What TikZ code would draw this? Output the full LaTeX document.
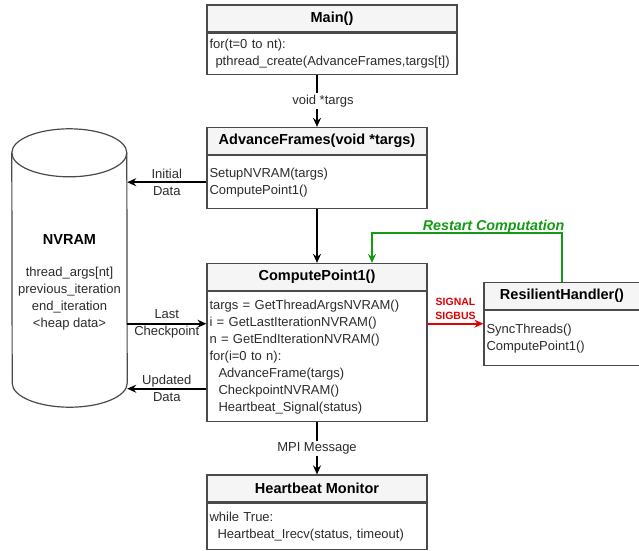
\documentclass[tikz,border=0pt]{standalone}
\usepackage{fontspec}
\setmainfont{Liberation Sans}
\usetikzlibrary{arrows.meta,positioning}

\definecolor{headfill}{HTML}{F5F5F5}
\definecolor{boxline}{HTML}{4A4A4A}
\definecolor{bodytext}{HTML}{2B2B2B}
\definecolor{sigred}{HTML}{E00000}
\definecolor{restartgreen}{HTML}{129A12}

\begin{document}
\begin{tikzpicture}[x=1pt, y=-1pt,
    every node/.style={font=\fontsize{13}{17}\selectfont, text=bodytext},
    head/.style={draw=boxline, fill=headfill, line width=1.2pt, minimum height=27pt,
        inner sep=0pt, text=black, font=\fontsize{14.5}{16}\selectfont\bfseries},
    body/.style={draw=boxline, line width=1.2pt, align=left, inner xsep=2.5pt, inner ysep=0pt},
    flow/.style={line width=1.6pt, -{Stealth[length=9pt,width=8pt,inset=3pt]}}]
\useasboundingbox (0,0) rectangle (639,550);

% NVRAM store
\node[minimum width=115pt, minimum height=278pt, inner sep=0pt] (nvram) at (69.5,268) {};
\draw[line width=1.2pt, draw=boxline] ([yshift=-24pt]nvram.north west)
    arc[start angle=180, end angle=0, x radius=57.5pt, y radius=24pt]
    -- ([yshift=24pt]nvram.south east)
    arc[start angle=0, end angle=-180, x radius=57.5pt, y radius=24pt] -- cycle;
\draw[line width=1.2pt, draw=boxline] ([yshift=-24pt]nvram.north west)
    arc[start angle=180, end angle=360, x radius=57.5pt, y radius=24pt];
\node[font=\fontsize{14.5}{16}\selectfont\bfseries, text=black] (nvramT) at (69.5,240) {NVRAM};
\node[align=center] (nvramV) at (69.5,298.5) {thread\_args[nt]\\previous\_iteration\\end\_iteration\\<heap data>};

% boxes
\node[head, minimum width=250pt] (mainH) at (332,18.5) {Main()};
\node[body, text width=245pt, minimum height=41pt, below=0pt of mainH] (mainB)
    {for(t=0 to nt):\\\hspace*{6pt}pthread\_create(AdvanceFrames,targs[t])};

\node[head, minimum width=220pt] (afH) at (317,141) {AdvanceFrames(void *targs)};
\node[body, text width=215pt, minimum height=53pt, below=0pt of afH] (afB)
    {SetupNVRAM(targs)\\ComputePoint1()};

\node[head, minimum width=220pt] (cpH) at (317,277) {ComputePoint1()};
\node[body, text width=215pt, minimum height=130pt, below=0pt of cpH] (cpB)
    {targs = GetThreadArgsNVRAM()\\i = GetLastIterationNVRAM()\\n = GetEndIterationNVRAM()\\for(i=0 to n):\\
    \hspace*{9pt}AdvanceFrame(targs)\\\hspace*{9pt}CheckpointNVRAM()\\\hspace*{9pt}Heartbeat\_Signal(status)};

\node[head, minimum width=156pt] (rhH) at (562,296) {ResilientHandler()};
\node[body, text width=151pt, minimum height=55pt, below=0pt of rhH] (rhB)
    {SyncThreads()\\ComputePoint1()};

\node[head, minimum width=220pt] (hbH) at (317,488.5) {Heartbeat Monitor};
\node[body, text width=215pt, minimum height=46pt, below=0pt of hbH] (hbB)
    {while True:\\\hspace*{8pt}Heartbeat\_Irecv(status, timeout)};

% connectors
\coordinate (cpIn) at ([yshift=33pt]cpB.west);
\coordinate (cpOut) at ([yshift=-32pt]cpB.west);

\draw[flow] (mainB.south -| afH.north) -- node[fill=white, inner sep=2pt, xshift=6pt]{void *targs} (afH.north);
\draw[flow] (afB.west) -- node[align=center]{Initial\\Data} (afB.west -| nvram.east);
\draw[flow] (afB.south) -- (cpH.north);
\draw[flow] (cpIn -| nvram.east) -- node[align=center]{Last\\Checkpoint} (cpIn);
\draw[flow] (cpOut) -- node[align=center]{Updated\\Data} (cpOut -| nvram.east);
\draw[flow] (cpB.south) -- node[fill=white, inner sep=2pt]{MPI Message} (hbH.north);

\draw[flow, draw=sigred, line width=1.9pt] (cpIn -| cpB.east) -- node[above, align=center, inner sep=3pt, text=sigred,
    font=\fontsize{10.5}{14}\selectfont\bfseries]{SIGNAL\\SIGBUS} (cpIn -| rhB.west);
\draw[flow, draw=restartgreen, line width=1.9pt] (rhH.north) -- ++(0,-49) -| node[pos=0.18, anchor=base, yshift=2pt,
    text=restartgreen, font=\fontsize{14.3}{16}\selectfont\bfseries\itshape]{Restart Computation}
    ([xshift=55pt]cpH.north);
\end{tikzpicture}
\end{document}
